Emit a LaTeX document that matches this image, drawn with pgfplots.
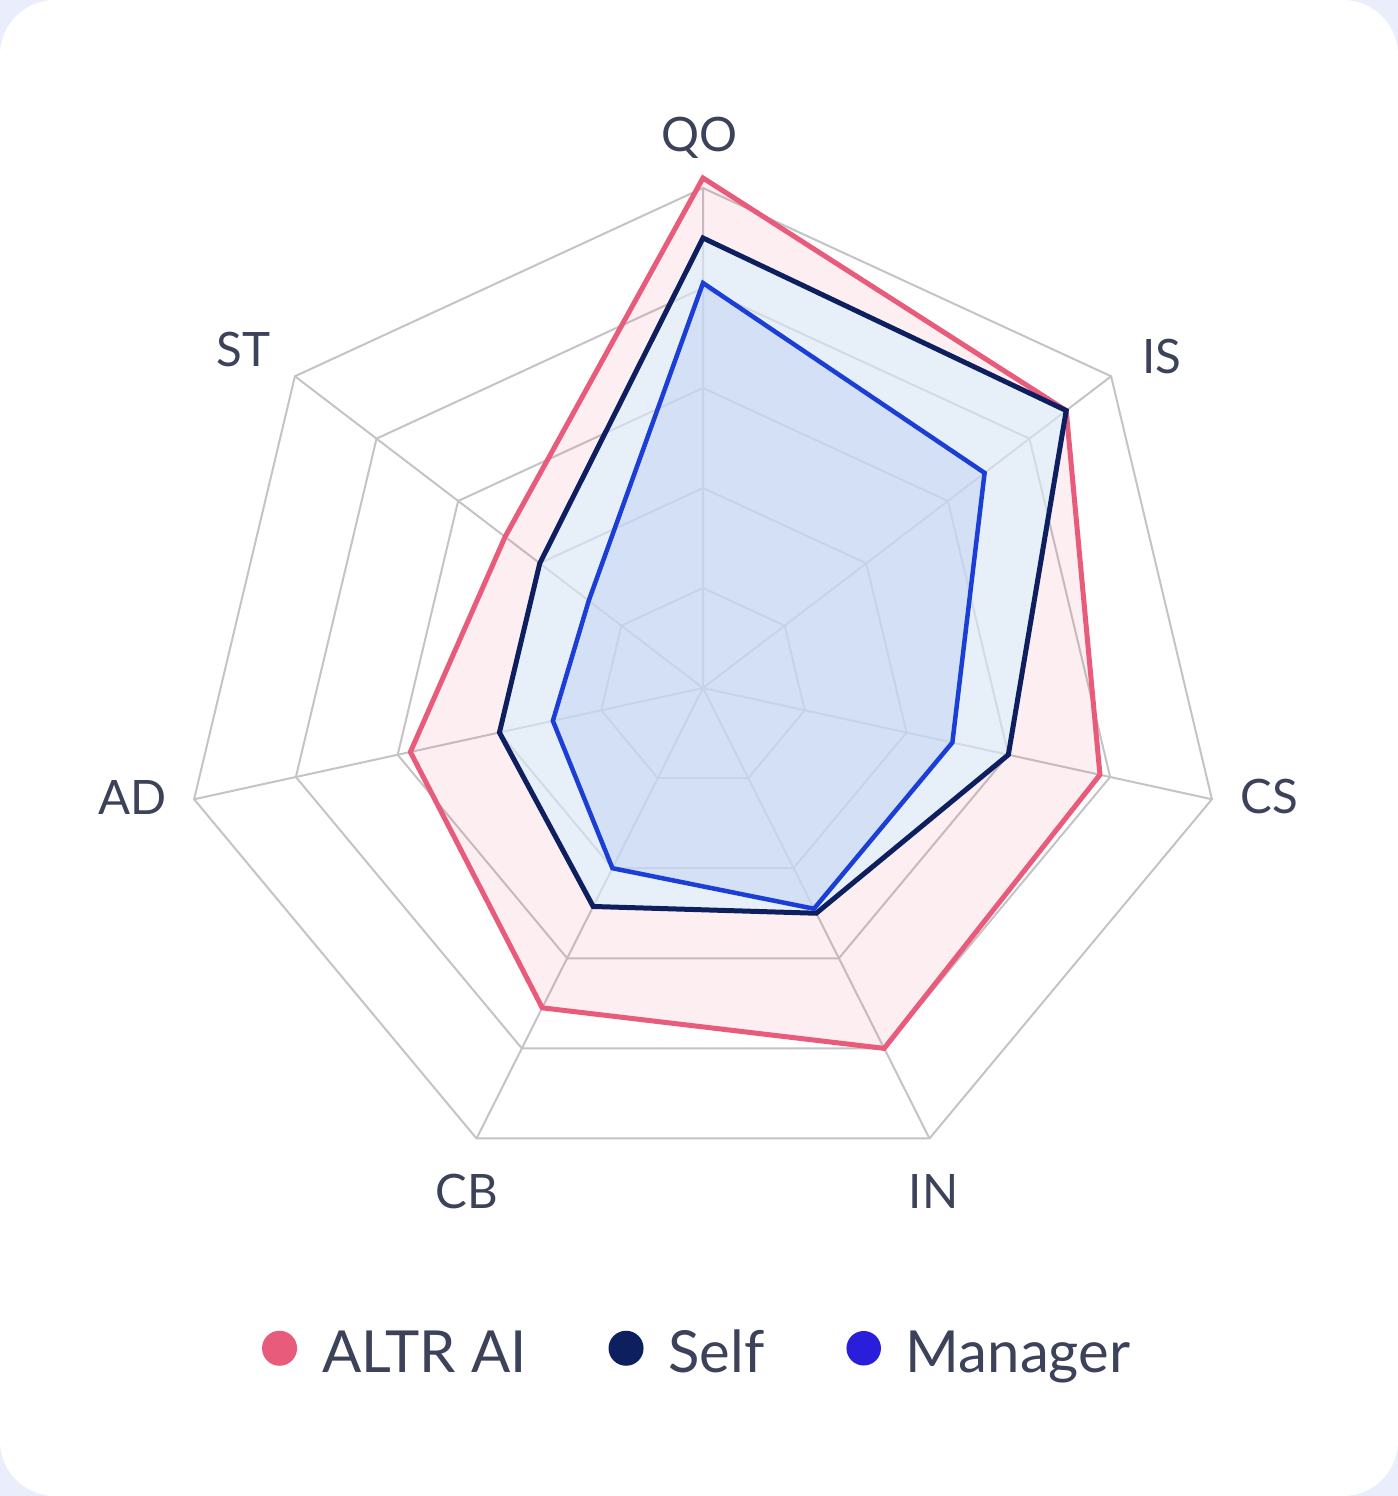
\documentclass[border=0pt]{standalone}
\usepackage{fontspec}
\setmainfont{Lato}
\usepackage{pgfplots}
\pgfplotsset{compat=1.18}
\usepackage{pgfplotstable}

\definecolor{altr}{RGB}{232,91,122}
\definecolor{selfc}{RGB}{13,31,94}
\definecolor{mgr}{RGB}{27,63,214}
\definecolor{mgrdot}{RGB}{42,30,218}
\definecolor{gridc}{RGB}{196,196,198}
\definecolor{txt}{RGB}{59,66,89}
\definecolor{selffill}{RGB}{218,242,255}
\definecolor{mgrfill}{RGB}{184,201,240}
\definecolor{outerbg}{RGB}{234,237,251}

% scores per competency (angle clockwise from the top, value on a 0-100 scale)
\pgfplotstableread{
axis a altr self mgr
QO 0 102 90 81
IS 51.4286 89 89 69
CS 102.857 78 60 49
IN 154.286 80 50 49
CB 205.714 71 48.5 40
AD 257.143 57.5 40 29.5
ST 308.571 48.5 40 28
}\scores

% spokes: out to the rim and back to the centre
\pgfplotstableread{
a r
0 100
0 0
51.4286 100
51.4286 0
102.857 100
102.857 0
154.286 100
154.286 0
205.714 100
205.714 0
257.143 100
257.143 0
308.571 100
308.571 0
}\spokes

\newcommand{\lblfont}{\fontsize{13.5}{16}\selectfont}

\begin{document}
\begin{tikzpicture}
% card
\fill[outerbg] (0,0) rectangle (139.8mm,-149.6mm);
\fill[white, rounded corners=5.5mm] (0,0) rectangle (139.8mm,-149.6mm);

\begin{axis}[
  x=0.522mm, y=0.5mm,
  xmin=-130, xmax=130, ymin=-130, ymax=130,
  at={(70.3mm,-68.8mm)}, anchor=center,
  hide axis, clip=false,
  legend columns=3,
  legend style={at={(0.495,-0.0125)}, anchor=center, draw=none, fill=none,
    font=\fontsize{16.5}{19}\selectfont, text=txt,
    nodes={inner sep=0pt},
    /tikz/every odd column/.append style={column sep=2.5mm},
    /tikz/every even column/.append style={column sep=8.2mm}},
  gridline/.style={draw=gridc, line width=0.2mm, line join=miter},
]
% rings
\pgfplotsinvokeforeach{20,40,60,80,100}{
  \addplot[gridline, forget plot] table[x expr={#1*sin(\thisrow{a})}, y expr={#1*cos(\thisrow{a})}] {\scores} -- cycle;
}
% spokes
\addplot[gridline, forget plot] table[x expr={\thisrow{r}*sin(\thisrow{a})}, y expr={\thisrow{r}*cos(\thisrow{a})}] {\spokes};

% areas
\addplot[draw=none, fill=altr, fill opacity=0.1, forget plot]
  table[x expr={\thisrow{altr}*sin(\thisrow{a})}, y expr={\thisrow{altr}*cos(\thisrow{a})}] {\scores} -- cycle;
\addplot[draw=none, fill=selffill, fill opacity=0.6, forget plot]
  table[x expr={\thisrow{self}*sin(\thisrow{a})}, y expr={\thisrow{self}*cos(\thisrow{a})}] {\scores} -- cycle;
\addplot[draw=none, fill=mgrfill, fill opacity=0.4, forget plot]
  table[x expr={\thisrow{mgr}*sin(\thisrow{a})}, y expr={\thisrow{mgr}*cos(\thisrow{a})}] {\scores} -- cycle;

% outlines
\addplot[draw=altr, line width=0.5mm, line join=miter,
  legend image code/.code={\fill[altr] (1.5mm,0.6mm) circle (1.5mm);}]
  table[x expr={\thisrow{altr}*sin(\thisrow{a})}, y expr={\thisrow{altr}*cos(\thisrow{a})}] {\scores} -- cycle;
\addlegendentry{ALTR AI}
\addplot[draw=selfc, line width=0.5mm, line join=miter,
  legend image code/.code={\fill[selfc] (1.5mm,0.6mm) circle (1.5mm);}]
  table[x expr={\thisrow{self}*sin(\thisrow{a})}, y expr={\thisrow{self}*cos(\thisrow{a})}] {\scores} -- cycle;
\addlegendentry{Self}
\addplot[draw=mgr, line width=0.45mm, line join=miter,
  legend image code/.code={\fill[mgrdot] (1.5mm,0.6mm) circle (1.5mm);}]
  table[x expr={\thisrow{mgr}*sin(\thisrow{a})}, y expr={\thisrow{mgr}*cos(\thisrow{a})}] {\scores} -- cycle;
\addlegendentry{Manager}

% competency labels
\begin{scope}[every node/.style={font=\lblfont, text=txt, anchor=base}]
\node at (axis cs:-0.7,107.4) {QO};
\node at (axis cs:87.9,63) {IS};
\node at (axis cs:108.5,-25) {CS};
\node at (axis cs:44.2,-104) {IN};
\node at (axis cs:-45.2,-104) {CB};
\node at (axis cs:-109.2,-25.2) {AD};
\node at (axis cs:-88.1,64.4) {ST};
\end{scope}
\end{axis}
\end{tikzpicture}
\end{document}
